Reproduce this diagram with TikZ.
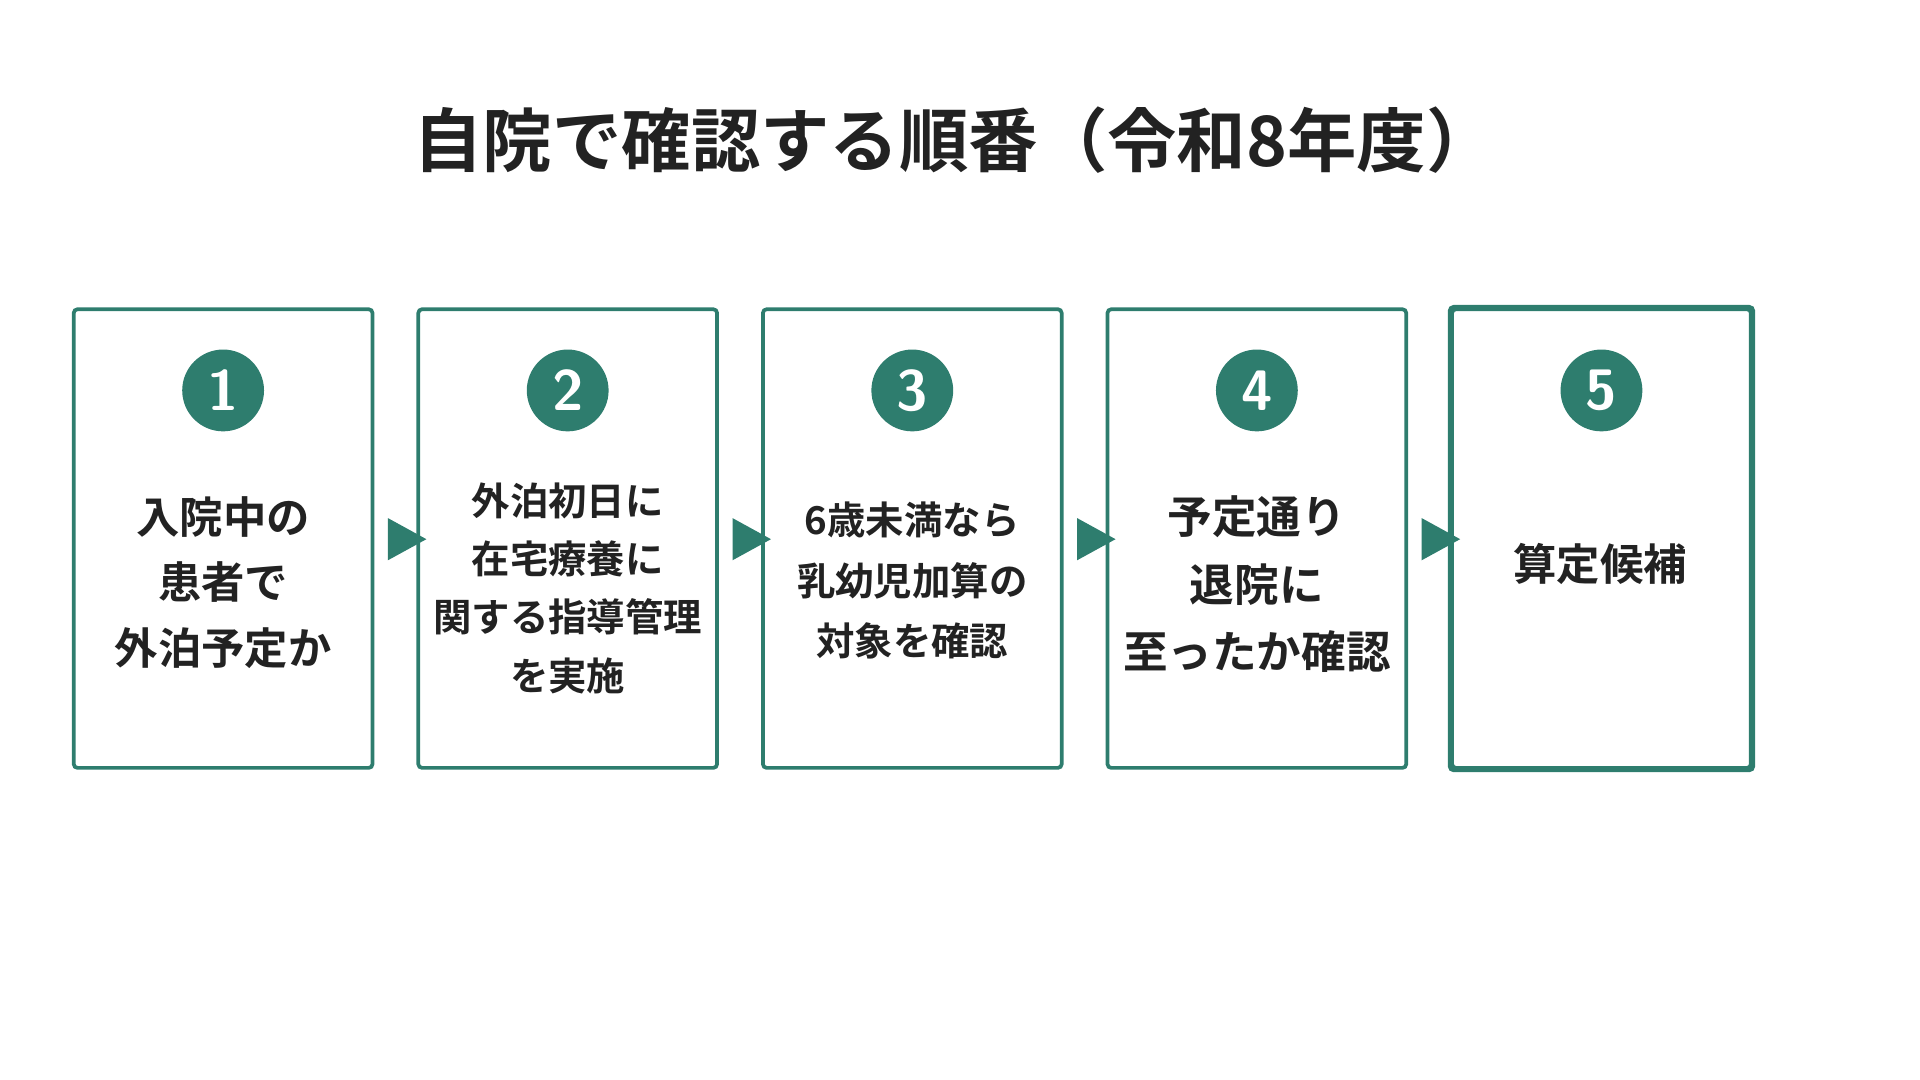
\documentclass[tikz,border=0pt]{standalone}
\usepackage{fontspec}
\setmainfont{Noto Sans CJK JP}[BoldFont={* Bold}]
\usetikzlibrary{positioning}
\definecolor{stepgreen}{HTML}{2E7D6E}
\definecolor{ink}{HTML}{222222}

\tikzset{
  stepbox/.style={draw=stepgreen,line width=3pt,rounded corners=3pt,minimum width=241pt,
    minimum height=370pt,inner sep=0pt},
  num/.style={circle,fill=stepgreen,text=white,minimum size=66pt,inner sep=0pt,
    font=\fontsize{46}{46}\bfseries\sffamily},
  txt/.style={align=center,text=ink,font=\bfseries},
  tri/.style={fill=stepgreen,draw=none}
}

\begin{document}
\begin{tikzpicture}[x=1pt,y=-1pt]
  \useasboundingbox (0,0) rectangle (1549,871.3);

  \node[txt,font=\fontsize{56}{56}\bfseries] (title) at (770,113)
       {自院で確認する順番（令和8年度）};

  % boxes and numbers
  \foreach \i in {1,...,5} {
    \node[stepbox] (box\i) at ({180+278*(\i-1)},434.5) {};
    \node[num] (n\i) at ({180+278*(\i-1)},315) {\i};
  }
  \draw[draw=stepgreen,line width=4pt,rounded corners=3pt]
    (box5.south west) rectangle (box5.north east);

  % texts
  \node[txt,font=\fontsize{35}{53}\bfseries] (t1) at (180,470)
       {入院中の\\患者で\\外泊予定か};
  \node[txt,font=\fontsize{31}{47}\bfseries] (t2) at (458,474.5)
       {外泊初日に\\在宅療養に\\関する指導管理\\を実施};
  \node[txt,font=\fontsize{31}{49}\bfseries] (t3) at (736,468.5)
       {6歳未満なら\\乳幼児加算の\\対象を確認};
  \node[txt,font=\fontsize{36}{54.5}\bfseries] (t4) at (1014,471.5)
       {予定通り\\退院に\\至ったか確認};
  \node[txt,font=\fontsize{35}{35}\bfseries] (t5) at (1291,455)
       {算定候補};

  % arrows between boxes
  \foreach \i [evaluate=\i as \x using {313+278*(\i-1)}] in {1,...,4}
    \fill[tri] (\x,418) -- (\x+31,435) -- (\x,452) -- cycle;
\end{tikzpicture}
\end{document}
